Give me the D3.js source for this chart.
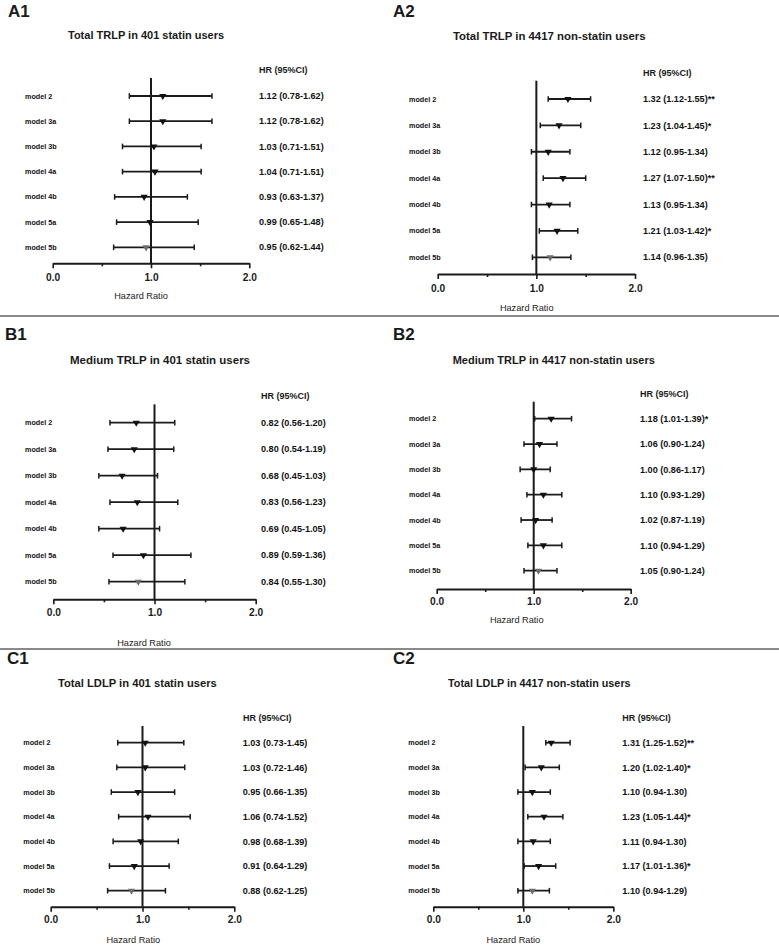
<!DOCTYPE html>
<html><head><meta charset="utf-8">
<script src="https://cdn.jsdelivr.net/npm/d3@7/dist/d3.min.js"></script>
<style>
html,body{margin:0;padding:0;background:#fff;}
svg{display:block;font-family:"Liberation Sans",Arial,Helvetica,sans-serif;}
</style></head>
<body>
<svg id="chart" width="779" height="945"></svg>
<script>
// ---------- data ----------
const models = ["model 2","model 3a","model 3b","model 4a","model 4b","model 5a","model 5b"];
const xTicks = [0, 1, 2];
const xMinorTicks = [0.5, 1.5];

const hrA1  = [1.12, 1.12, 1.03, 1.04, 0.93, 0.99, 0.95];
const loA1  = [0.78, 0.78, 0.71, 0.71, 0.63, 0.65, 0.62];
const hiA1  = [1.62, 1.62, 1.51, 1.51, 1.37, 1.48, 1.44];
const sigA1 = ["", "", "", "", "", "", ""];

const hrA2  = [1.32, 1.23, 1.12, 1.27, 1.13, 1.21, 1.14];
const loA2  = [1.12, 1.04, 0.95, 1.07, 0.95, 1.03, 0.96];
const hiA2  = [1.55, 1.45, 1.34, 1.50, 1.34, 1.42, 1.35];
const sigA2 = ["**", "*", "", "**", "", "*", ""];

const hrB1  = [0.82, 0.80, 0.68, 0.83, 0.69, 0.89, 0.84];
const loB1  = [0.56, 0.54, 0.45, 0.56, 0.45, 0.59, 0.55];
const hiB1  = [1.20, 1.19, 1.03, 1.23, 1.05, 1.36, 1.30];
const sigB1 = ["", "", "", "", "", "", ""];

const hrB2  = [1.18, 1.06, 1.00, 1.10, 1.02, 1.10, 1.05];
const loB2  = [1.01, 0.90, 0.86, 0.93, 0.87, 0.94, 0.90];
const hiB2  = [1.39, 1.24, 1.17, 1.29, 1.19, 1.29, 1.24];
const sigB2 = ["*", "", "", "", "", "", ""];

const hrC1  = [1.03, 1.03, 0.95, 1.06, 0.98, 0.91, 0.88];
const loC1  = [0.73, 0.72, 0.66, 0.74, 0.68, 0.64, 0.62];
const hiC1  = [1.45, 1.46, 1.35, 1.52, 1.39, 1.29, 1.25];
const sigC1 = ["", "", "", "", "", "", ""];

const hrC2  = [1.31, 1.20, 1.10, 1.23, 1.11, 1.17, 1.10];
const loC2  = [1.25, 1.02, 0.94, 1.05, 0.94, 1.01, 0.94];
const hiC2  = [1.52, 1.40, 1.30, 1.44, 1.30, 1.36, 1.29];
const sigC2 = ["**", "*", "", "*", "", "*", ""];

const panelIds = ["A1","A2","B1","B2","C1","C2"];
const titles = [
  "Total TRLP in 401 statin users",
  "Total TRLP in 4417 non-statin users",
  "Medium TRLP in 401 statin users",
  "Medium TRLP in 4417 non-statin users",
  "Total LDLP in 401 statin users",
  "Total LDLP in 4417 non-statin users"
];
const headerText = "HR (95%CI)";
const xAxisTitle = "Hazard Ratio";

// ---------- layout (positions only) ----------
const layouts = [
  {id:[8,11],  title:[68,35.5,11],   head:[259,70],   x:[52.7,249.3],  axisY:263.3, refTop:78,    rows:[96,247.3],    modelX:25,    hrX:259,   tickY:277,   hzX:141,   hzY:296},
  {id:[393,11],title:[453,35.7,11.4],head:[643,72.7], x:[437.7,635],   axisY:274,   refTop:80.7,  rows:[99,257.3],    modelX:409,   hrX:643,   tickY:288.3, hzX:526.7, hzY:308},
  {id:[5,334], title:[70,360,11.5],  head:[261,396],  x:[53.3,255.7],  axisY:599.3, refTop:404.3, rows:[422.7,581.7],  modelX:25,    hrX:261,   tickY:612.7, hzX:144,   hzY:643},
  {id:[393,334],title:[452.7,360,11],head:[640,394],  x:[436.7,630.7], axisY:589,   refTop:401.7, rows:[418.7,570.7],  modelX:409,   hrX:640,   tickY:601,   hzX:516.7, hzY:620},
  {id:[7,658], title:[58,683,11.2],  head:[243,717.7],x:[50.7,234.3],  axisY:906.7, refTop:726,   rows:[742.7,890.7],  modelX:23.3,  hrX:242.7, tickY:919.3, hzX:133.3, hzY:939.3},
  {id:[393,658],title:[448,683,10.8],head:[622.3,717.7],x:[433.3,613.3],axisY:906.7,refTop:726,  rows:[742.7,890.7],  modelX:408.3, hrX:622.3, tickY:919.3, hzX:513.3, hzY:939.3}
];

const dataSets = [
  [hrA1,loA1,hiA1,sigA1],[hrA2,loA2,hiA2,sigA2],
  [hrB1,loB1,hiB1,sigB1],[hrB2,loB2,hiB2,sigB2],
  [hrC1,loC1,hiC1,sigC1],[hrC2,loC2,hiC2,sigC2]
];

const svg = d3.select("#chart");
const ink = "#1a1a1a";

// separators
[316, 649].forEach(y => {
  svg.append("line").attr("x1",0).attr("x2",779).attr("y1",y).attr("y2",y)
    .attr("stroke","#8a8a8a").attr("stroke-width",2);
});

const tri = d3.symbol().type(d3.symbolTriangle).size(22);

panelIds.forEach((pid, i) => {
  const L = layouts[i];
  const [hr, lo, hi, sig] = dataSets[i];
  const g = svg.append("g");

  const x = d3.scaleLinear().domain([0,2]).range(L.x);
  const y = d3.scalePoint().domain(models).range(L.rows);

  // panel id
  g.append("text").attr("x",L.id[0]).attr("y",L.id[1]).attr("dy","0.35em")
    .attr("font-size",17).attr("font-weight","bold").attr("fill",ink).text(pid);
  // title
  g.append("text").attr("x",L.title[0]).attr("y",L.title[1]).attr("dy","0.35em")
    .attr("font-size",L.title[2]).attr("font-weight","bold").attr("fill",ink).text(titles[i]);
  // header
  g.append("text").attr("x",L.head[0]).attr("y",L.head[1]).attr("dy","0.35em")
    .attr("font-size",9).attr("font-weight","bold").attr("fill",ink).text(headerText);

  // x axis
  const axisG = g.append("g").attr("transform",`translate(0,${L.axisY})`);
  const pad = L.tickY - L.axisY - 5 - 3.6;
  axisG.call(d3.axisBottom(x).tickValues(xTicks).tickFormat(d3.format(".1f"))
      .tickSize(5).tickSizeOuter(0).tickPadding(pad));
  axisG.select(".domain").attr("stroke",ink).attr("stroke-width",2);
  axisG.selectAll(".tick line").attr("stroke",ink).attr("stroke-width",1.6);
  axisG.selectAll(".tick text").attr("font-size",10.2).attr("font-weight","bold")
    .attr("fill",ink).attr("font-family","Liberation Sans, Arial, sans-serif");
  const minorG = g.append("g").attr("transform",`translate(0,${L.axisY})`);
  minorG.call(d3.axisBottom(x).tickValues(xMinorTicks).tickFormat("").tickSize(3).tickSizeOuter(0));
  minorG.select(".domain").remove();
  minorG.selectAll(".tick line").attr("stroke",ink).attr("stroke-width",1.6);

  // axis title
  g.append("text").attr("x",L.hzX).attr("y",L.hzY).attr("dy","0.35em")
    .attr("text-anchor","middle").attr("font-size",9.2).attr("fill","#222").text(xAxisTitle);

  // reference line at 1.0
  g.append("line").attr("x1",x(1)).attr("x2",x(1)).attr("y1",L.refTop).attr("y2",L.axisY)
    .attr("stroke",ink).attr("stroke-width",2);

  const rows = models.map((m, k) => ({m, hr:hr[k], lo:lo[k], hi:hi[k], sig:sig[k], k}));

  // model labels
  g.selectAll(".ml").data(rows).join("text")
    .attr("x",L.modelX).attr("y",d=>y(d.m)).attr("dy","0.35em")
    .attr("font-size",7.2).attr("font-weight","bold").attr("fill","#111").text(d=>d.m);

  // CI lines
  g.selectAll(".ci").data(rows).join("line")
    .attr("x1",d=>x(d.lo)).attr("x2",d=>x(d.hi)).attr("y1",d=>y(d.m)).attr("y2",d=>y(d.m))
    .attr("stroke",ink).attr("stroke-width",1.8);
  g.selectAll(".capl").data(rows).join("line")
    .attr("x1",d=>x(d.lo)).attr("x2",d=>x(d.lo)).attr("y1",d=>y(d.m)-2.8).attr("y2",d=>y(d.m)+2.8)
    .attr("stroke",ink).attr("stroke-width",1.5);
  g.selectAll(".caph").data(rows).join("line")
    .attr("x1",d=>x(d.hi)).attr("x2",d=>x(d.hi)).attr("y1",d=>y(d.m)-2.8).attr("y2",d=>y(d.m)+2.8)
    .attr("stroke",ink).attr("stroke-width",1.5);

  // markers (down triangles)
  g.selectAll(".mk").data(rows).join("path")
    .attr("d",tri)
    .attr("transform",d=>`translate(${x(d.hr)},${y(d.m)}) rotate(180)`)
    .attr("fill",d=>d.k===6 ? "#6e6e6e" : "#111");

  // HR text
  g.selectAll(".hrt").data(rows).join("text")
    .attr("x",L.hrX).attr("y",d=>y(d.m)).attr("dy","0.35em")
    .attr("font-size",9.1).attr("font-weight","bold").attr("fill","#111")
    .text(d=>`${d.hr.toFixed(2)} (${d.lo.toFixed(2)}-${d.hi.toFixed(2)})${d.sig}`);
});
</script>
</body></html>
